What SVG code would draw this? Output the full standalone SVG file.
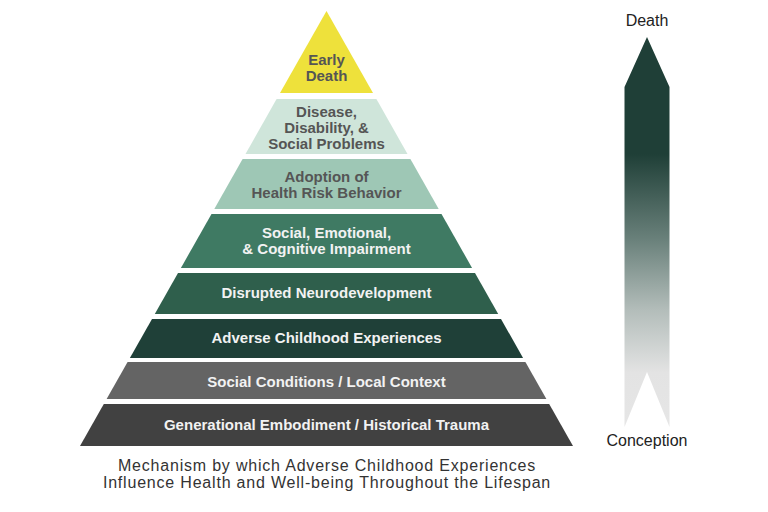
<svg xmlns="http://www.w3.org/2000/svg" width="768" height="512" viewBox="0 0 768 512">
<style>
text{font-family:"Liberation Sans","Open Sans",Arial,sans-serif;text-anchor:middle}
.lt{font-size:15px;font-weight:bold;fill:#555555}
.dk{font-size:15px;font-weight:bold;fill:#f2f2f2}
.cap{font-size:16px;fill:#333333;letter-spacing:0.8px}
.arr{font-size:16px;fill:#222222}
</style>
<defs>
<linearGradient id="ag" gradientUnits="userSpaceOnUse" x1="0" y1="37" x2="0" y2="427">
<stop offset="0" stop-color="#1f3f37"/>
<stop offset="0.3" stop-color="#1f3f37"/>
<stop offset="0.52" stop-color="#6a817b"/>
<stop offset="0.7" stop-color="#b3bdba"/>
<stop offset="0.86" stop-color="#e3e3e3"/>
<stop offset="1" stop-color="#e6e6e6"/>
</linearGradient>
</defs>
<rect width="768" height="512" fill="#ffffff"/>
<g id="early-death">
<polygon points="326.5,11 373,93 280,93" fill="#eee13b"/>
<text class="lt" x="326.5" y="65">Early</text>
<text class="lt" x="326.5" y="81">Death</text>
</g>
<g id="disease">
<polygon points="276.6,99 376.4,99 407.5,154 245.5,154" fill="#cfe5da"/>
<text class="lt" x="326.5" y="117">Disease,</text>
<text class="lt" x="326.5" y="133">Disability, &amp;</text>
<text class="lt" x="326.5" y="149">Social Problems</text>
</g>
<g id="adoption">
<polygon points="242.6,159 410.4,159 438.7,209 214.3,209" fill="#9ec7b5"/>
<text class="lt" x="326.5" y="182">Adoption of</text>
<text class="lt" x="326.5" y="198">Health Risk Behavior</text>
</g>
<g id="social-emotional">
<polygon points="211.5,214 441.5,214 472.1,268 180.9,268" fill="#3f7a63"/>
<text class="dk" x="326.5" y="238">Social, Emotional,</text>
<text class="dk" x="326.5" y="254">&amp; Cognitive Impairment</text>
</g>
<g id="neurodevelopment">
<polygon points="178,273 475,273 498.2,314 154.8,314" fill="#2f5f4c"/>
<text class="dk" x="326.5" y="298">Disrupted Neurodevelopment</text>
</g>
<g id="aces">
<polygon points="152,319 501,319 523.1,358 129.9,358" fill="#1f4038"/>
<text class="dk" x="326.5" y="343">Adverse Childhood Experiences</text>
</g>
<g id="social-conditions">
<polygon points="127.6,362 525.4,362 546.4,399 106.6,399" fill="#646464"/>
<text class="dk" x="326.5" y="387">Social Conditions / Local Context</text>
</g>
<g id="generational">
<polygon points="103.8,404 549.2,404 573,446 80,446" fill="#414141"/>
<text class="dk" x="326.5" y="430">Generational Embodiment / Historical Trauma</text>
</g>
<g id="caption">
<text class="cap" x="327" y="471">Mechanism by which Adverse Childhood Experiences</text>
<text class="cap" x="327" y="488">Influence Health and Well-being Throughout the Lifespan</text>
</g>
<g id="lifespan-arrow">
<polygon points="647,37 669.5,87 669.5,427 647,372 624.5,427 624.5,87" fill="url(#ag)"/>
<text class="arr" x="647" y="26">Death</text>
<text class="arr" x="647" y="446">Conception</text>
</g>
</svg>
